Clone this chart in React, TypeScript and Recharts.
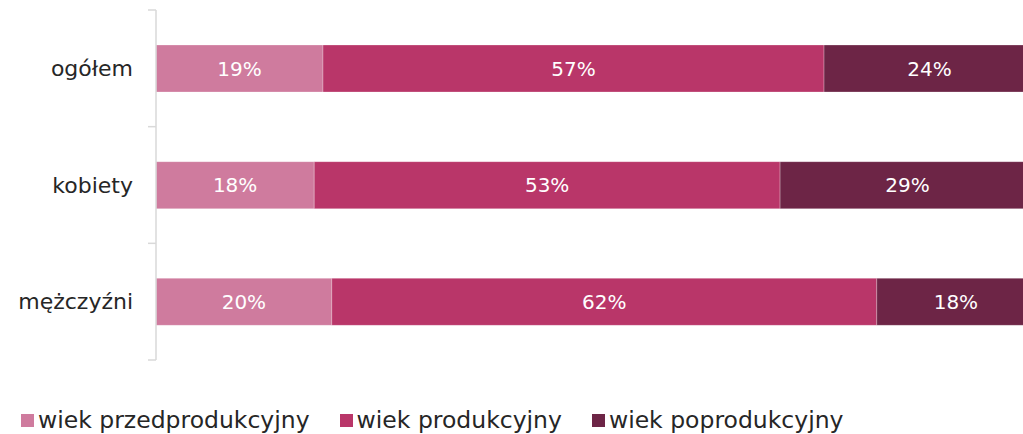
import React from 'react';
import { BarChart, Bar, XAxis, YAxis, LabelList } from 'recharts';

const CATEGORIES = ['ogółem', 'kobiety', 'mężczyźni'];
const PRZEDPRODUKCYJNY = [19, 18, 20];
const PRODUKCYJNY = [57, 53, 62];
const POPRODUKCYJNY = [24, 29, 18];
const SERIES_KEYS = ['przed', 'prod', 'poprod'];
const SERIES_NAMES = ['wiek przedprodukcyjny', 'wiek produkcyjny', 'wiek poprodukcyjny'];
const SERIES_COLORS = ['#cf7b9e', '#b93669', '#6d2546'];

const FONT = '"DejaVu Sans", sans-serif';
const AXIS_GREY = '#d9d9d9';

const data = CATEGORIES.map((name, i) => ({
  name,
  przed: PRZEDPRODUKCYJNY[i],
  prod: PRODUKCYJNY[i],
  poprod: POPRODUKCYJNY[i],
}));

// category label + Excel-style tick marks between categories
const CategoryTick = (props: any) => {
  const { x, y, payload } = props;
  const half = payload && payload.offset ? payload.offset : 350 / 6;
  const isLast = payload.value === CATEGORIES[CATEGORIES.length - 1];
  return (
    <g>
      <line x1={x} x2={x + 8} y1={y - half} y2={y - half} stroke={AXIS_GREY} strokeWidth={1.5} />
      {isLast && (
        <line x1={x} x2={x + 8} y1={y + half} y2={y + half} stroke={AXIS_GREY} strokeWidth={1.5} />
      )}
      <text
        x={x - 15}
        y={y}
        dy="0.355em"
        textAnchor="end"
        fill="#262626"
        fontSize={22}
        fontFamily={FONT}
      >
        {payload.value}
      </text>
    </g>
  );
};

export default function App() {
  return (
    <div
      style={{
        position: 'absolute',
        left: 0,
        top: 0,
        width: 1023,
        height: 434,
        overflow: 'hidden',
        background: '#fff',
      }}
    >
      <BarChart
        width={1060}
        height={380}
        data={data}
        layout="vertical"
        margin={{ top: 10, right: 25, bottom: 20, left: 0 }}
        barCategoryGap="30%"
      >
        <XAxis type="number" domain={[0, 100]} hide />
        <YAxis
          type="category"
          dataKey="name"
          width={156}
          interval={0}
          axisLine={{ stroke: AXIS_GREY, strokeWidth: 1.5 }}
          tickLine={false}
          tick={<CategoryTick />}
        />
        {SERIES_KEYS.map((key, i) => (
          <Bar
            key={key}
            dataKey={key}
            name={SERIES_NAMES[i]}
            stackId="a"
            fill={SERIES_COLORS[i]}
            stroke="#ffffff"
            strokeOpacity={0.25}
            strokeWidth={1}
            isAnimationActive={false}
          >
            <LabelList
              dataKey={key}
              position="center"
              fill="#ffffff"
              fontSize={20}
              fontFamily={FONT}
              formatter={(v: any) => `${v}%`}
            />
          </Bar>
        ))}
      </BarChart>

      {/* legend */}
      <div
        style={{
          position: 'absolute',
          left: 21,
          top: 407,
          display: 'flex',
          alignItems: 'center',
          fontFamily: FONT,
          fontSize: 23.5,
          lineHeight: '27px',
          color: '#262626',
          whiteSpace: 'nowrap',
        }}
      >
        {SERIES_NAMES.map((name, i) => (
          <div key={name} style={{ display: 'flex', alignItems: 'center', marginRight: 30 }}>
            <span
              style={{
                display: 'inline-block',
                width: 13,
                height: 13,
                background: SERIES_COLORS[i],
                marginRight: 4,
              }}
            />
            <span>{name}</span>
          </div>
        ))}
      </div>
    </div>
  );
}
